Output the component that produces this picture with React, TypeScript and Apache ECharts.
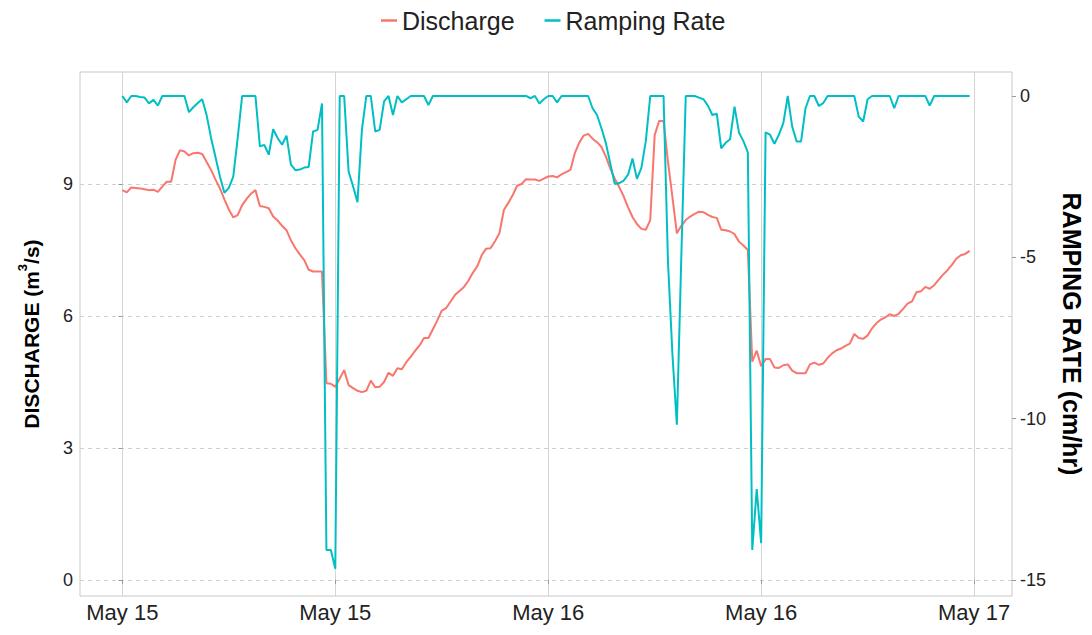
import React, { useEffect, useRef } from "react";
import * as echarts from "echarts";

// Time step of the records, in hours (first record: May 15 00:00)
const stepHours = 0.25;

// x-axis tick positions (hours from May 15 00:00) and their labels
const tickHours = [0, 12, 24, 36, 48];
const tickLabels = ["May 15", "May 15", "May 16", "May 16", "May 17"];

const dischargeTicks = [0, 3, 6, 9];
const rampTicks = [0, -5, -10, -15];

// Discharge (m3/s), 15-minute records, one row per hour
const discharge = [
  8.86, 8.81, 8.92, 8.91,
  8.9, 8.88, 8.86, 8.87,
  8.82, 8.94, 9.05, 9.05,
  9.55, 9.77, 9.74, 9.65,
  9.7, 9.71, 9.68, 9.5,
  9.32, 9.1, 8.9, 8.65,
  8.42, 8.24, 8.29, 8.52,
  8.66, 8.78, 8.86, 8.5,
  8.48, 8.45, 8.26, 8.17,
  8.05, 7.95, 7.72, 7.54,
  7.4, 7.27, 7.05, 7.01,
  7.01, 7.01, 4.47, 4.46,
  4.39, 4.58, 4.77, 4.43,
  4.36, 4.3, 4.27, 4.3,
  4.53, 4.38, 4.39, 4.5,
  4.71, 4.64, 4.81, 4.79,
  4.95, 5.07, 5.21, 5.33,
  5.5, 5.5, 5.7, 5.9,
  6.12, 6.18, 6.33, 6.48,
  6.57, 6.66, 6.8, 6.98,
  7.13, 7.38, 7.53, 7.54,
  7.7, 7.88, 8.41, 8.57,
  8.75, 8.96, 9.0, 9.11,
  9.1, 9.1, 9.07, 9.12,
  9.17, 9.18, 9.15, 9.22,
  9.27, 9.32, 9.7, 9.94,
  10.1, 10.14, 10.03, 9.95,
  9.84, 9.62, 9.35, 9.12,
  8.93, 8.72, 8.47, 8.25,
  8.09, 7.98, 7.96, 8.18,
  10.11, 10.43, 10.43, 9.5,
  8.7, 7.88, 8.05, 8.18,
  8.26, 8.32, 8.37, 8.36,
  8.3, 8.25, 8.23, 7.96,
  7.95, 7.92, 7.86, 7.69,
  7.6, 7.5, 4.96, 5.21,
  4.86, 5.02, 5.02, 4.83,
  4.82, 4.88, 4.9, 4.76,
  4.7, 4.7, 4.7, 4.9,
  4.94, 4.89, 4.92, 5.05,
  5.15, 5.22, 5.26, 5.32,
  5.37, 5.59, 5.5, 5.48,
  5.56, 5.72, 5.84, 5.92,
  5.97, 6.04, 6.0, 6.05,
  6.16, 6.28, 6.33, 6.54,
  6.56, 6.66, 6.62, 6.7,
  6.82, 6.94, 7.04, 7.16,
  7.3, 7.38, 7.41, 7.48,
];

// Ramping rate (cm/hr), 15-minute records, one row per hour
const rampingRate = [
  0, -0.2, 0, 0,
  -0.03, -0.05, -0.23, -0.12,
  -0.3, 0, 0, 0,
  0, 0, 0, -0.5,
  -0.35, -0.22, -0.1, -0.6,
  -1.3, -1.9, -2.5, -3.0,
  -2.85, -2.5, -1.3, 0,
  0, 0, 0, -1.56,
  -1.52, -1.82, -1.03, -1.3,
  -1.51, -1.23, -2.13, -2.3,
  -2.28, -2.22, -2.2, -1.1,
  -1.05, -0.23, -14.07, -14.07,
  -14.65, 0, 0, -2.34,
  -2.8, -3.29, -1.05, 0,
  0, -1.1, -1.05, -0.17,
  0, -0.59, 0, -0.2,
  -0.1, 0, 0, 0,
  0, -0.28, 0, 0,
  0, 0, 0, 0,
  0, 0, 0, 0,
  0, 0, 0, 0,
  0, 0, 0, 0,
  0, 0, 0, 0,
  -0.07, 0, -0.23, -0.1,
  0, 0, -0.2, 0,
  0, 0, 0, 0,
  0, 0, -0.38, -0.59,
  -1.0, -1.46, -2.1, -2.73,
  -2.7, -2.62, -2.44, -1.94,
  -2.57, -2.23, -1.4, 0,
  0, 0, 0, -5.15,
  -8.0, -10.19, -5.0, 0,
  0, 0, -0.05, -0.1,
  -0.3, -0.59, -0.55, -1.62,
  -1.45, -1.34, -0.33, -1.13,
  -1.4, -1.75, -14.07, -12.18,
  -13.86, -1.13, -1.2, -1.48,
  -1.2, -0.84, 0, -0.95,
  -1.41, -1.41, -0.38, 0,
  0, -0.31, -0.22, 0,
  0, 0, 0, 0,
  0, 0, -0.64, -0.79,
  -0.1, 0, 0, 0,
  0, 0, -0.38, 0,
  0, 0, 0, 0,
  0, 0, -0.3, 0,
  0, 0, 0, 0,
  0, 0, 0, 0,
];

const FONT = "'Liberation Sans', Arial, Helvetica, sans-serif";

export default function App() {
  const ref = useRef<HTMLDivElement>(null);

  useEffect(() => {
    document.body.style.margin = "0";
    if (!ref.current) return;
    const chart = echarts.init(ref.current, undefined, { renderer: "svg" });

    const dischargeData = discharge.map((v, i) => [i * stepHours, v]);
    const rampData = rampingRate.map((v, i) => [i * stepHours, v]);
    const lastHour = (discharge.length - 1) * stepHours;
    const pad = lastHour * 0.05;

    // Left axis range; right axis is the linear transform r = (d - 11) * 15 / 11
    const dMin = -0.364;
    const dMax = 11.545;
    const toRamp = (d: number) => ((d - 11) * 15) / 11;

    const yLabelStyle = { color: "#222", fontSize: 18, fontFamily: FONT };
    const xLabelStyle = { color: "#222", fontSize: 22, fontFamily: FONT };

    chart.setOption({
      animation: false,
      backgroundColor: "#fff",
      textStyle: { fontFamily: FONT },
      legend: {
        top: 3,
        left: 376,
        itemWidth: 16,
        itemHeight: 2.5,
        itemGap: 30,
        icon: "rect",
        textStyle: { fontSize: 25, color: "#222", fontFamily: FONT },
        data: ["Discharge", "Ramping Rate"],
      },
      grid: {
        left: 80,
        right: 77,
        top: 72,
        bottom: 39,
        show: true,
        borderColor: "#c8c8c8",
        borderWidth: 1,
        backgroundColor: "#fff",
      },
      xAxis: {
        type: "value",
        min: -pad,
        max: lastHour + pad,
        axisLine: { show: false },
        axisTick: {
          show: true,
          customValues: tickHours,
          length: 4,
          lineStyle: { color: "#999" },
        },
        axisLabel: {
          customValues: tickHours,
          formatter: (v: number) => tickLabels[tickHours.indexOf(v)] ?? "",
          margin: 5,
          ...xLabelStyle,
        },
        splitLine: { show: true, lineStyle: { color: "#d4d4d4", width: 1 } },
      },
      yAxis: [
        {
          type: "value",
          position: "left",
          min: dMin,
          max: dMax,
          axisLine: { show: false },
          axisTick: {
            show: true,
            customValues: dischargeTicks,
            length: 4,
            lineStyle: { color: "#999" },
          },
          axisLabel: { customValues: dischargeTicks, margin: 7, ...yLabelStyle },
          splitLine: {
            show: true,
            lineStyle: { color: "#cfcfcf", width: 1, type: [4, 4] },
          },
          name: "{b|DISCHARGE (m}{s|3}{b|/s)}",
          nameLocation: "middle",
          nameGap: 38,
          nameRotate: 90,
          nameTextStyle: {
            rich: {
              b: {
                fontSize: 21,
                fontWeight: "bold",
                color: "#000",
                fontFamily: FONT,
                lineHeight: 26,
                verticalAlign: "bottom",
              },
              s: {
                fontSize: 13,
                fontWeight: "bold",
                color: "#000",
                fontFamily: FONT,
                lineHeight: 26,
                verticalAlign: "top",
              },
            },
          },
        },
        {
          type: "value",
          position: "right",
          min: toRamp(dMin),
          max: toRamp(dMax),
          axisLine: { show: false },
          axisTick: {
            show: true,
            customValues: rampTicks,
            length: 4,
            lineStyle: { color: "#999" },
          },
          axisLabel: { customValues: rampTicks, margin: 8, ...yLabelStyle },
          splitLine: { show: false },
          name: "RAMPING RATE (cm/hr)",
          nameLocation: "middle",
          nameGap: 47,
          nameRotate: -90,
          nameTextStyle: {
            fontSize: 25,
            fontWeight: "bold",
            color: "#000",
            fontFamily: FONT,
          },
        },
      ],
      series: [
        {
          name: "Discharge",
          type: "line",
          yAxisIndex: 0,
          data: dischargeData,
          showSymbol: false,
          symbol: "none",
          lineStyle: { color: "#F8766D", width: 2 },
          itemStyle: { color: "#F8766D" },
          z: 2,
        },
        {
          name: "Ramping Rate",
          type: "line",
          yAxisIndex: 1,
          data: rampData,
          showSymbol: false,
          symbol: "none",
          lineStyle: { color: "#00BFC4", width: 2 },
          itemStyle: { color: "#00BFC4" },
          z: 3,
        },
      ],
    });

    return () => chart.dispose();
  }, []);

  return <div ref={ref} style={{ width: 1092, height: 635 }} />;
}
